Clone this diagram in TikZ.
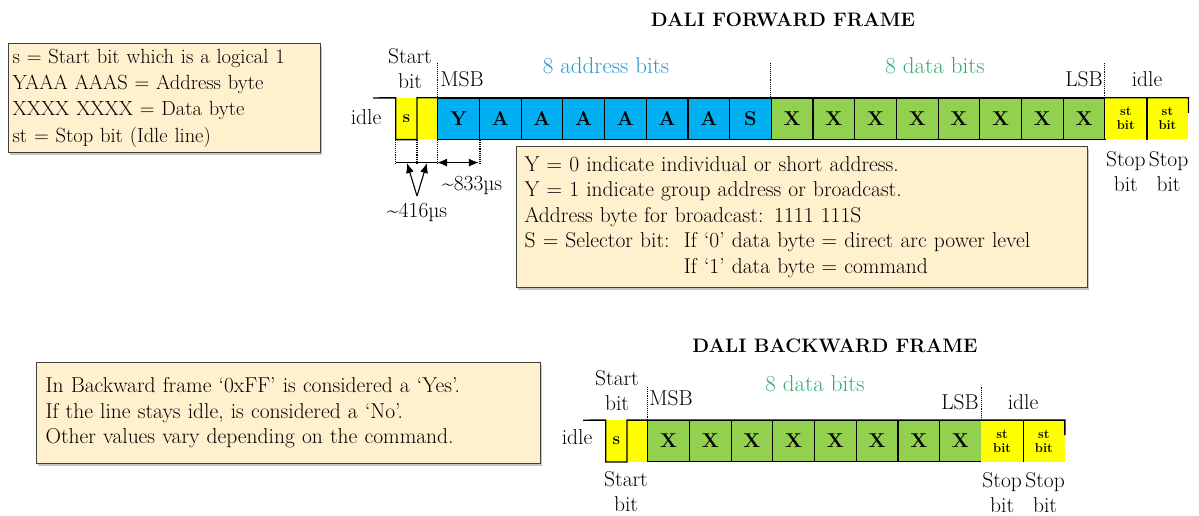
\documentclass[tikz,border=0pt]{standalone}
\usepackage{fontspec}
\usepackage{tikz}
\usetikzlibrary{arrows.meta,shadows}

\definecolor{addrblue}{RGB}{0,176,240}
\definecolor{datagreen}{RGB}{146,208,80}
\definecolor{bityellow}{RGB}{255,255,0}
\definecolor{notefill}{RGB}{255,240,206}
\definecolor{addrtext}{RGB}{38,150,205}
\definecolor{datatext}{RGB}{50,170,110}

\tikzset{
  cell/.style={draw=black, line width=1.2pt, minimum width=41.7pt, minimum height=41.5pt, inner sep=0pt, font=\fontsize{20}{20}\selectfont\bfseries},
  addrcell/.style={cell, fill=addrblue},
  datacell/.style={cell, fill=datagreen},
  halfbit/.style={fill=bityellow, minimum width=20.85pt, minimum height=41.5pt, inner sep=0pt, font=\fontsize{17}{17}\selectfont\bfseries},
  stopbit/.style={fill=bityellow, minimum width=41.7pt, minimum height=41.5pt, inner sep=0pt, align=center, font=\fontsize{13}{14}\selectfont\bfseries},
  sigline/.style={line width=1.4pt},
  dotline/.style={densely dotted, line width=1.1pt},
  lbl/.style={inner sep=0pt, align=center, font=\fontsize{21.5}{25}\selectfont},
  note/.style={draw=black!75, line width=1.2pt, fill=notefill, align=left, anchor=north west, inner ysep=0pt, font=\fontsize{21.5}{25.5}\selectfont, drop shadow={shadow xshift=1pt, shadow yshift=-2pt, fill=black!45}},
  frametitle/.style={inner sep=0pt, font=\fontsize{19.5}{19.5}\selectfont\bfseries},
  dimarrow/.style={-{Latex[length=10pt,width=8pt]}, line width=1.1pt},
  dimboth/.style={{Latex[length=10pt,width=8pt]}-{Latex[length=10pt,width=8pt]}, line width=1.1pt},
}

\begin{document}
\begin{tikzpicture}[x=1pt,y=-1pt]
\useasboundingbox (0,0) rectangle (1199,516);

% legend and notes
\node[note, font=\fontsize{20.5}{26.3}\selectfont, text width=304pt, inner xsep=4pt, minimum height=109pt] (legend) at (8,43) {s = Start bit which is a logical 1\\ YAAA AAAS = Address byte\\ XXXX XXXX = Data byte\\ st = Stop bit (Idle line)};
\node[note, text width=555pt, inner xsep=8pt, minimum height=141pt] (fnote) at (516,146) {Y = 0 indicate individual or short address.\\ Y = 1 indicate group address or broadcast.\\ Address byte for broadcast: 1111 111S\\ S = Selector bit:\ \ If `0' data byte = direct arc power level\\ \phantom{S = Selector bit:\ \ }If `1' data byte = command};
\node[note, text width=486pt, inner xsep=9pt, minimum height=101pt] (bnote) at (36,362) {In Backward frame `0xFF' is considered a `Yes'.\\ If the line stays idle, is considered a `No'.\\ Other values vary depending on the command.};

% forward frame
\node[frametitle] (ftitle) at (783,20) {DALI FORWARD FRAME};
\node[halfbit] (fst) at (406.4,118.75) {s};
\node[halfbit] (fsh) at (427.3,118.75) {};
\foreach \b [count=\i] in {Y,A,A,A,A,A,A,S}
  \node[addrcell] (fa\i) at ({396+\i*41.7+20.85},118.75) {\b};
\foreach \i in {1,...,8}
  \node[datacell] (fd\i) at ({396+(\i+8)*41.7+20.85},118.75) {X};
\node[stopbit] (fp1) at (1125.75,118.75) {st\\bit};
\node[stopbit] (fp2) at (1167.45,118.75) {st\\bit};
\coordinate (fidle) at (373,98);
\draw[sigline] (fidle) -- (fst.north west) -- (fst.south west) -- (fst.south east) -- (fst.north east) -- (fp2.north east) -- ++(0,15);
\draw[sigline] (fp1.north east) -- (fp1.south east);
\foreach \n in {fa1.north west, fd1.north west, fp1.north west}
  \draw[dotline] (\n) -- ++(0,-35);
\foreach \n in {fst.south west, fst.south east, fsh.south east, fa1.south east}
  \draw[dotline] (\n) -- ++(0,24);
\draw[line width=1.1pt] (fst.south west) ++(0,22.5) -- ++(41.7,0);
\draw[dimboth] (fa1.south west) ++(0,22.5) -- ++(41.7,0);
\coordinate (t416) at (417,196);
\draw[dimarrow] (t416) -- (407,163);
\draw[dimarrow] (t416) -- (427,163);
\node[lbl] (l416) at (417,212) {\textasciitilde416µs};
\node[lbl] (l833) at (472,185) {\textasciitilde833µs};
\node[lbl] (fstart) at (410,68.5) {Start\\bit};
\node[lbl] (fmsb) at (462,79) {MSB};
\node[lbl] (flsb) at (1084,79) {LSB};
\node[lbl] (fidl1) at (366,117) {idle};
\node[lbl] (fidl2) at (1147,79) {idle};
\node[lbl, text=addrtext, font=\fontsize{23}{23}\selectfont] (faddr) at (606,66) {8 address bits};
\node[lbl, text=datatext, font=\fontsize{23}{23}\selectfont] (fdata) at (935,66) {8 data bits};
\node[lbl] (fstop1) at (1125.75,172) {Stop\\bit};
\node[lbl] (fstop2) at (1168.5,172) {Stop\\bit};

% backward frame
\node[frametitle] (btitle) at (835,346) {DALI BACKWARD FRAME};
\node[halfbit] (bst) at (616.4,441) {s};
\node[halfbit] (bsh) at (637.3,441) {};
\foreach \i in {1,...,8}
  \node[datacell] (bd\i) at ({606+\i*41.7+20.85},441) {X};
\node[stopbit] (bp1) at (1002.15,441) {st\\bit};
\node[stopbit] (bp2) at (1043.85,441) {st\\bit};
\coordinate (bidle) at (583,420.25);
\draw[sigline] (bidle) -- (bst.north west) -- (bst.south west) -- (bst.south east) -- (bst.north east) -- (bp2.north east) -- ++(0,15);
\draw[sigline] (bp1.north east) -- (bp1.south east);
\foreach \n in {bd1.north west, bp1.north west}
  \draw[dotline] (\n) -- ++(0,-33);
\node[lbl] (bstart) at (617,391) {Start\\bit};
\node[lbl] (bstart2) at (626,492) {Start\\bit};
\node[lbl] (bmsb) at (671,398) {MSB};
\node[lbl] (blsb) at (960,402) {LSB};
\node[lbl] (bidl1) at (577,437) {idle};
\node[lbl] (bidl2) at (1023,402) {idle};
\node[lbl, text=datatext, font=\fontsize{23}{23}\selectfont] (bdata) at (815,384) {8 data bits};
\node[lbl] (bstop1) at (1002.15,493) {Stop\\bit};
\node[lbl] (bstop2) at (1045,493) {Stop\\bit};
\end{tikzpicture}
\end{document}
